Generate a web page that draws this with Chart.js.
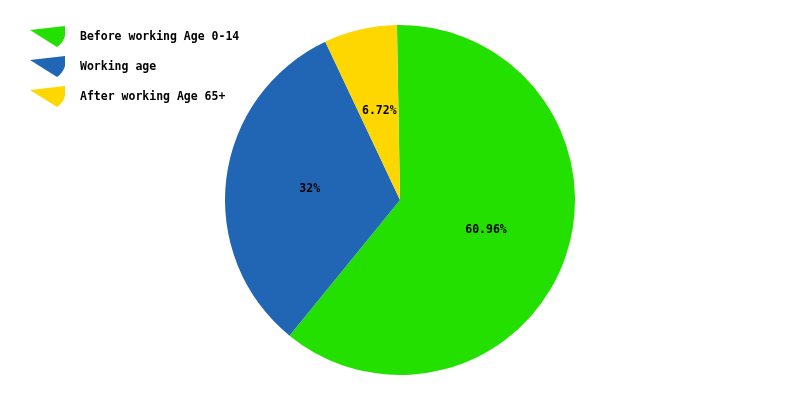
<!DOCTYPE html>
<html>
<head>
<meta charset="utf-8">
<script src="https://cdn.jsdelivr.net/npm/chart.js@4/dist/chart.umd.min.js"></script>
<style>
html,body{margin:0;padding:0;background:#fff;}
#wrap{width:800px;height:400px;}
</style>
</head>
<body>
<div id="wrap"><canvas id="c" width="800" height="400"></canvas></div>
<script>
const categories = ["Before working Age 0-14", "Working age", "After working Age 65+"];
const values = [60.96, 32, 6.72];
const valueLabels = ["60.96%", "32%", "6.72%"];
const colors = ["#24E000", "#2166B4", "#FFD700"];

const FONT = "bold 11.5px 'DejaVu Sans Mono', 'Liberation Mono', monospace";

const labelPlugin = {
  id: 'sliceLabels',
  afterDatasetsDraw(chart) {
    const ctx = chart.ctx;
    const meta = chart.getDatasetMeta(0);
    ctx.save();
    ctx.font = FONT;
    ctx.fillStyle = '#000';
    ctx.textAlign = 'center';
    ctx.textBaseline = 'middle';
    meta.data.forEach((arc, i) => {
      const p = arc.getProps(['x','y','startAngle','endAngle','outerRadius'], true);
      const mid = (p.startAngle + p.endAngle) / 2;
      const r = p.outerRadius * 0.52;
      ctx.fillText(valueLabels[i], p.x + Math.cos(mid) * r, p.y + Math.sin(mid) * r);
    });
    ctx.restore();
  }
};

const legendPlugin = {
  id: 'wedgeLegend',
  afterDraw(chart) {
    const ctx = chart.ctx;
    ctx.save();
    categories.forEach((name, i) => {
      const y0 = 37 + i * 30;
      ctx.fillStyle = colors[i];
      ctx.beginPath();
      ctx.moveTo(30, y0 - 7);
      ctx.lineTo(65, y0 - 11);
      ctx.lineTo(65, y0 - 1);
      ctx.quadraticCurveTo(63, y0 + 6, 57, y0 + 10);
      ctx.closePath();
      ctx.fill();
      ctx.font = FONT;
      ctx.fillStyle = '#000';
      ctx.textAlign = 'left';
      ctx.textBaseline = 'middle';
      ctx.fillText(name, 80, y0);
    });
    ctx.restore();
  }
};

new Chart(document.getElementById('c'), {
  type: 'pie',
  data: {
    labels: categories,
    datasets: [{
      data: values,
      backgroundColor: colors,
      borderWidth: 0,
      hoverOffset: 0
    }]
  },
  options: {
    responsive: false,
    animation: false,
    rotation: -1,
    layout: { padding: { top: 25, bottom: 25, left: 0, right: 0 } },
    plugins: {
      legend: { display: false },
      tooltip: { enabled: false }
    }
  },
  plugins: [labelPlugin, legendPlugin]
});
</script>
</body>
</html>
